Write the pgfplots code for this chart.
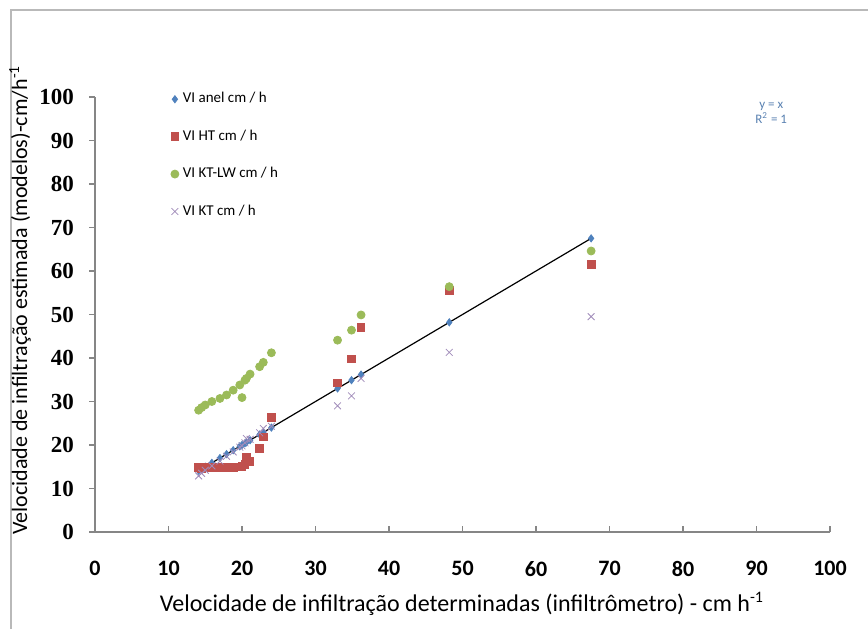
\documentclass[border=0pt]{standalone}
\usepackage{pgfplots}
\pgfplotsset{compat=1.18}
\usepackage{fontspec}
\setmainfont{Carlito}
\newfontfamily\tickfont{Liberation Serif}
\definecolor{axgray}{HTML}{868686}
\definecolor{cblue}{HTML}{4F81BD}
\definecolor{cred}{HTML}{C0504D}
\definecolor{cgreen}{HTML}{9BBB59}
\definecolor{cpurple}{HTML}{8064A2}
\begin{document}
\begin{tikzpicture}
\useasboundingbox (0,0) rectangle (434pt,314pt);
\draw[gray!55, line width=0.6pt] (5.5pt,-1pt) -- (5.5pt,309pt) -- (435pt,309pt);
\begin{axis}[
  at={(47.5pt,48pt)}, anchor=south west,
  scale only axis, width=367.5pt, height=217.5pt,
  xmin=0, xmax=100, ymin=0, ymax=100,
  xtick={0,10,...,100}, ytick={0,10,...,100},
  axis x line=bottom, axis y line=left,
  axis line style={-, axgray, line width=0.7pt},
  tick align=inside, major tick length=3pt,
  tick style={axgray, line width=0.6pt},
  ytick style={xshift=-3pt},
  /pgf/number format/assume math mode=true,
  yticklabel style={font=\tickfont\bfseries\fontsize{11.5}{12}\selectfont, xshift=-7pt},
  xticklabel style={font=\bfseries\fontsize{11}{12}\selectfont, yshift=-11pt},
  legend style={at={(0.1,1.025)}, anchor=north west, draw=none, fill=none,
    font=\fontsize{7.5}{8.5}\selectfont, row sep=8pt, inner sep=1pt},
  legend cell align=left,
  clip=false,
]
\addplot[only marks, mark=diamond*, mark size=1.8pt, color=cblue] coordinates {
(14.1,14.1)(14.5,14.5)(15.0,15.0)(15.9,15.9)(17.0,17.0)(17.9,17.9)(18.8,18.8)(19.7,19.7)(20.0,20.0)(20.4,20.4)(20.6,20.6)(21.1,21.1)(22.4,22.4)(22.9,22.9)(24.0,24.0)(33.0,33.0)(34.9,34.9)(36.2,36.2)(48.2,48.2)(67.5,67.5)};
\addlegendentry{VI anel cm / h}
\addplot[only marks, mark=square*, mark size=1.9pt, color=cred] coordinates {
(14.1,14.8)(14.5,14.6)(15.0,14.8)(15.9,14.8)(17.0,14.8)(17.9,14.9)(18.8,14.9)(19.7,15.0)(20.0,15.1)(20.4,15.6)(20.6,17.3)(21.1,16.2)(22.4,19.2)(22.9,21.9)(24.0,26.4)(33.0,34.3)(34.9,39.8)(36.2,47.0)(48.2,55.6)(67.5,61.5)};
\addlegendentry{VI HT cm / h}
\addplot[only marks, mark=*, mark size=2pt, color=cgreen] coordinates {
(14.1,28.0)(14.5,28.6)(15.0,29.2)(15.9,30.0)(17.0,30.7)(17.9,31.5)(18.8,32.6)(19.7,33.8)(20.0,30.9)(20.4,34.9)(20.6,35.3)(21.1,36.3)(22.4,38.0)(22.9,39.0)(24.0,41.2)(33.0,44.1)(34.9,46.4)(36.2,49.9)(48.2,56.4)(67.5,64.6)};
\addlegendentry{VI KT-LW cm / h}
\addplot[only marks, mark=x, mark size=2.4pt, color=cpurple!75] coordinates {
(14.1,12.9)(14.5,13.5)(15.0,14.2)(15.9,15.2)(17.0,16.3)(17.9,17.4)(18.8,18.4)(19.7,19.5)(20.0,19.8)(20.4,20.5)(20.6,21.5)(21.1,21.3)(22.4,22.8)(22.9,23.8)(24.0,24.3)(33.0,29.0)(34.9,31.3)(36.2,35.3)(48.2,41.3)(67.5,49.5)};
\addlegendentry{VI KT cm / h}
\addplot[black, line width=0.6pt, forget plot] coordinates {(14.1,14.1)(67.5,67.5)};
\node[font=\fontsize{6.5}{7.5}\selectfont, text=cblue!80!gray, align=center, inner sep=0pt] at (axis cs:92,96.3) {y = x\\R\textsuperscript{2} = 1};
\end{axis}
\node[rotate=90, font=\fontsize{11}{12}\selectfont] at (10pt,164pt) {Velocidade de infiltração estimada (modelos)-cm/h\textsuperscript{-1}};
\node[font=\fontsize{12}{13}\selectfont] at (231pt,12pt) {Velocidade de infiltração determinadas (infiltrômetro) - cm h\textsuperscript{-1}};
\end{tikzpicture}
\end{document}
